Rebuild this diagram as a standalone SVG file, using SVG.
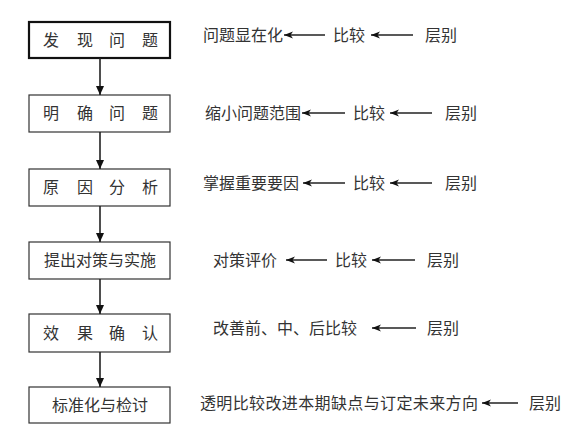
<svg xmlns="http://www.w3.org/2000/svg" width="573" height="436" viewBox="0 0 573 436">
<style>
.box{fill:#fff;stroke:#333;stroke-width:1.2}
.box1{fill:#fff;stroke:#111;stroke-width:2.2}
.bt{font-family:"Noto Sans CJK SC","Noto Sans CJK JP",sans-serif;font-size:16px;fill:#333;text-anchor:middle}
.rt{font-family:"Noto Sans CJK SC","Noto Sans CJK JP",sans-serif;font-size:16px;fill:#333}
.down{stroke:#222;stroke-width:1.6;fill:none;marker-end:url(#ad)}
.left{stroke:#222;stroke-width:1.3;fill:none;marker-end:url(#al)}
</style>
<defs>
<marker id="ad" markerUnits="userSpaceOnUse" markerWidth="10" markerHeight="10" refX="9" refY="4" orient="auto"><path d="M0,0 L9,4 L0,8 z" fill="#111"/></marker>
<marker id="al" markerUnits="userSpaceOnUse" markerWidth="10" markerHeight="8" refX="9" refY="3.5" orient="auto"><path d="M0,0 L9,3.5 L0,7 L2.5,3.5 z" fill="#111"/></marker>
</defs>
<rect width="573" height="436" fill="#fff"/>
<g id="n1"><rect class="box1" x="29" y="22" width="141" height="36"/><text class="bt" x="51 85 117 150" y="46">发现问题</text></g>
<g id="n2"><rect class="box" x="29" y="95" width="141" height="37"/><text class="bt" x="51 85 117 150" y="119">明确问题</text></g>
<g id="n3"><rect class="box" x="29" y="169" width="141" height="37"/><text class="bt" x="51 85 117 150" y="193">原因分析</text></g>
<g id="n4"><rect class="box" x="29" y="242" width="141" height="37"/><text class="bt" x="100" y="266">提出对策与实施</text></g>
<g id="n5"><rect class="box" x="29" y="314" width="141" height="38"/><text class="bt" x="51 85 117 150" y="339">效果确认</text></g>
<g id="n6"><rect class="box" x="29" y="387" width="141" height="36"/><text class="bt" x="100" y="411">标准化与检讨</text></g>
<g id="r1"><text class="rt" x="203" y="41">问题显在化</text><text class="rt" x="333" y="41">比较</text><text class="rt" x="425" y="41">层别</text></g>
<g id="r2"><text class="rt" x="205" y="119">缩小问题范围</text><text class="rt" x="353" y="119">比较</text><text class="rt" x="445" y="119">层别</text></g>
<g id="r3"><text class="rt" x="203" y="189">掌握重要要因</text><text class="rt" x="353" y="189">比较</text><text class="rt" x="445" y="189">层别</text></g>
<g id="r4"><text class="rt" x="213" y="266">对策评价</text><text class="rt" x="335" y="266">比较</text><text class="rt" x="427" y="266">层别</text></g>
<g id="r5"><text class="rt" x="213" y="334">改善前、中、后比较</text><text class="rt" x="427" y="334">层别</text></g>
<g id="r6"><text class="rt" x="200" y="409" textLength="278">透明比较改进本期缺点与订定未来方向</text><text class="rt" x="529" y="409">层别</text></g>
<g id="connectors">
<line class="down" x1="100" y1="58" x2="100" y2="95"/>
<line class="down" x1="100" y1="132" x2="100" y2="169"/>
<line class="down" x1="100" y1="206" x2="100" y2="242"/>
<line class="down" x1="100" y1="279" x2="100" y2="314"/>
<line class="down" x1="100" y1="352" x2="100" y2="387"/>
<line class="left" x1="325" y1="35" x2="284" y2="35"/>
<line class="left" x1="413" y1="35" x2="371" y2="35"/>
<line class="left" x1="345" y1="113" x2="302" y2="113"/>
<line class="left" x1="432" y1="113" x2="390" y2="113"/>
<line class="left" x1="345" y1="183" x2="303" y2="183"/>
<line class="left" x1="432" y1="183" x2="390" y2="183"/>
<line class="left" x1="327" y1="260" x2="286" y2="260"/>
<line class="left" x1="415" y1="260" x2="372" y2="260"/>
<line class="left" x1="416" y1="328" x2="372" y2="328"/>
<line class="left" x1="518" y1="403" x2="482" y2="403"/>
</g>
</svg>
